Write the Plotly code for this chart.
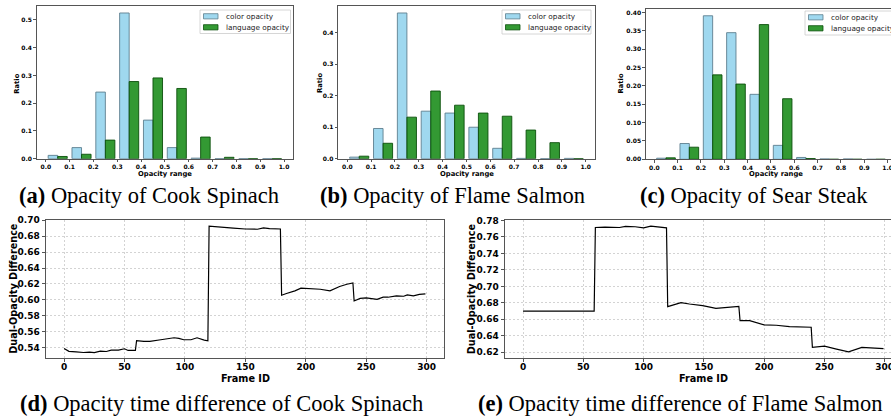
import plotly.graph_objects as go

W, H = 891, 417

# ---------------- data ----------------
bins = [0.0, 0.1, 0.2, 0.3, 0.4, 0.5, 0.6, 0.7, 0.8, 0.9]
x_ticks = [0.0, 0.1, 0.2, 0.3, 0.4, 0.5, 0.6, 0.7, 0.8, 0.9, 1.0]

spinach_color = [0.012, 0.040, 0.240, 0.525, 0.139, 0.040, 0.002, 0.0, 0.0, 0.0]
spinach_lang = [0.008, 0.016, 0.067, 0.278, 0.291, 0.253, 0.078, 0.005, 0.0, 0.0]
salmon_color = [0.005, 0.096, 0.463, 0.151, 0.145, 0.100, 0.033, 0.001, 0.0, 0.001]
salmon_lang = [0.008, 0.049, 0.132, 0.215, 0.170, 0.145, 0.135, 0.091, 0.051, 0.0]
steak_color = [0.003, 0.043, 0.391, 0.345, 0.177, 0.038, 0.005, 0.001, 0.001, 0.0]
steak_lang = [0.004, 0.033, 0.230, 0.205, 0.367, 0.165, 0.002, 0.0, 0.0, 0.0]

spinach_frames = [0, 4, 10, 16, 21, 25, 30, 35, 39, 45,
                  50, 53, 59, 60, 66, 71, 80, 91, 95, 99,
                  105, 110, 116, 119, 120, 130, 140, 150, 156, 160,
                  165, 170, 179, 180, 184, 191, 196, 201, 212, 220,
                  228, 234, 239, 240, 245, 250, 259, 264, 268, 275,
                  281, 284, 289, 294, 299]
spinach_diff = [0.539, 0.5355, 0.5348, 0.534, 0.5345, 0.534, 0.5357, 0.5353, 0.537, 0.537,
                0.5387, 0.5366, 0.5366, 0.549, 0.548, 0.548, 0.550, 0.5525, 0.5517, 0.550,
                0.550, 0.5525, 0.5496, 0.5487, 0.6925, 0.691, 0.690, 0.689, 0.6887, 0.6887,
                0.6903, 0.6895, 0.689, 0.6059, 0.608, 0.6113, 0.6147, 0.6143, 0.6134, 0.6113,
                0.6168, 0.6197, 0.6214, 0.5987, 0.602, 0.6025, 0.6008, 0.6034, 0.6034, 0.605,
                0.6046, 0.6063, 0.605, 0.607, 0.6076]

salmon_frames = [0, 59, 60, 68, 80, 85, 93, 100, 106, 113, 119, 120,
                 126, 131, 138, 146, 149, 160, 168, 179,
                 180, 188, 200, 210, 221, 232, 239,
                 240, 250, 260, 270, 281, 290, 299]
salmon_diff = [0.670, 0.670, 0.7715, 0.772, 0.7715, 0.7728, 0.7724, 0.7711, 0.7732, 0.7724, 0.7711, 0.6754,
               0.6782, 0.6802, 0.6786, 0.6774, 0.6766, 0.6734, 0.6746, 0.6758,
               0.6585, 0.6585, 0.6532, 0.6528, 0.6512, 0.6512, 0.6504,
               0.6259, 0.6275, 0.6239, 0.6206, 0.6259, 0.6255, 0.6243]

frame_ticks = [0, 50, 100, 150, 200, 250, 300]
spinach_yticks = [0.54, 0.56, 0.58, 0.60, 0.62, 0.64, 0.66, 0.68, 0.70]
salmon_yticks = [0.62, 0.64, 0.66, 0.68, 0.70, 0.72, 0.74, 0.76, 0.78]

captions = ["<b>(a)</b> Opacity of Cook Spinach",
            "<b>(b)</b> Opacity of Flame Salmon",
            "<b>(c)</b> Opacity of Sear Steak",
            "<b>(d)</b> Opacity time difference of Cook Spinach",
            "<b>(e)</b> Opacity time difference of Flame Salmon"]
legend_names = ["color opacity", "language opacity"]


def px(x):
    return x / W


def py(y):
    return 1 - y / H


BAR_W = 0.04
SKY = "rgba(135,206,235,0.8)"
SKY_EDGE = "#5d7f8e"
GRN = "rgba(0,128,0,0.8)"
GRN_EDGE = "#0b4f0b"
SPINE = "#555555"
GRID = "#d3d3d3"

fig = go.Figure()

hist_sets = [(spinach_color, spinach_lang), (salmon_color, salmon_lang), (steak_color, steak_lang)]
for i, (c_vals, l_vals) in enumerate(hist_sets, start=1):
    xa = "x" if i == 1 else f"x{i}"
    ya = "y" if i == 1 else f"y{i}"
    fig.add_trace(go.Bar(x=[b + 0.03 for b in bins], y=c_vals, width=BAR_W,
                         marker=dict(color=SKY, line=dict(color=SKY_EDGE, width=0.9)),
                         name=legend_names[0], showlegend=False, xaxis=xa, yaxis=ya))
    fig.add_trace(go.Bar(x=[b + 0.07 for b in bins], y=l_vals, width=BAR_W,
                         marker=dict(color=GRN, line=dict(color=GRN_EDGE, width=0.9)),
                         name=legend_names[1], showlegend=False, xaxis=xa, yaxis=ya))

fig.add_trace(go.Scatter(x=spinach_frames, y=spinach_diff, mode="lines",
                         line=dict(color="black", width=1.2), showlegend=False,
                         xaxis="x4", yaxis="y4"))
fig.add_trace(go.Scatter(x=salmon_frames, y=salmon_diff, mode="lines",
                         line=dict(color="black", width=1.2), showlegend=False,
                         xaxis="x5", yaxis="y5"))

small_tick = dict(family="DejaVu Sans", size=6, color="black", weight="bold")
big_tick = dict(family="DejaVu Sans", size=9, color="black", weight="bold")


def hist_x(domain, rng, anchor, mirror=True):
    return dict(domain=domain, range=rng, anchor=anchor, tickvals=x_ticks,
                ticktext=[f"{t:.1f}" for t in x_ticks], tickfont=small_tick,
                showline=True, linecolor=SPINE, linewidth=0.8, mirror=mirror,
                ticks="outside", ticklen=2.5, tickwidth=0.7, tickcolor=SPINE,
                showgrid=False, zeroline=False, ticklabeloverflow="allow")


def hist_y(domain, rng, anchor, step, fmt, mirror=True):
    n = int(round(rng[1] / step + 1e-9))
    vals = [round(k * step, 4) for k in range(n + 1)]
    return dict(domain=domain, range=rng, anchor=anchor, tickvals=vals,
                ticktext=[fmt.format(v) for v in vals], tickfont=small_tick,
                showline=True, linecolor=SPINE, linewidth=0.8, mirror=mirror,
                ticks="outside", ticklen=2.5, tickwidth=0.7, tickcolor=SPINE,
                showgrid=False, zeroline=False)


def line_x(domain, rng, anchor, mirror=True):
    return dict(domain=domain, range=rng, anchor=anchor, tickvals=frame_ticks,
                tickfont=big_tick, showline=True, linecolor=SPINE, linewidth=1,
                mirror=mirror, ticks="outside", ticklen=3.5, tickwidth=0.8,
                tickcolor=SPINE, showgrid=True, gridcolor=GRID, griddash="2px,2px",
                gridwidth=0.7, zeroline=False, ticklabelstandoff=-3,
                ticklabeloverflow="allow")


def line_y(domain, rng, anchor, tv, mirror=True):
    return dict(domain=domain, range=rng, anchor=anchor, tickvals=tv,
                ticktext=[f"{v:.2f}" for v in tv], tickfont=big_tick,
                showline=True, linecolor=SPINE, linewidth=1, mirror=mirror,
                ticks="outside", ticklen=3.5, tickwidth=0.8, tickcolor=SPINE,
                showgrid=True, gridcolor=GRID, griddash="2px,2px", gridwidth=0.7,
                zeroline=False)


top_dom_ab = [py(158.7), py(5.7)]
top_dom_c = [py(159.3), py(8.6)]
bot_dom = [py(357.7), py(220)]

ymax_a = max(spinach_color + spinach_lang) * 1.05
ymax_b = max(salmon_color + salmon_lang) * 1.05
ymax_c = max(steak_color + steak_lang) * 1.05

fig.update_layout(
    xaxis=hist_x([px(36.5), px(293.3)], [-0.039, 1.039], "y"),
    yaxis=hist_y(top_dom_ab, [0, ymax_a], "x", 0.1, "{:.1f}"),
    xaxis2=hist_x([px(338), px(595)], [-0.039, 1.039], "y2"),
    yaxis2=hist_y(top_dom_ab, [0, ymax_b], "x2", 0.1, "{:.1f}"),
    xaxis3=hist_x([px(645.7), 1.0], [-0.037, 1.0146], "y3"),
    yaxis3=hist_y(top_dom_c, [0, ymax_c], "x3", 0.05, "{:.2f}", mirror=False),
    xaxis4=line_x([px(46), px(443.5)], [-14.95, 313.95], "y4"),
    yaxis4=line_y(bot_dom, [0.5275, 0.7003], "x4", spinach_yticks),
    xaxis5=line_x([px(505), 1.0], [-14.95, 305.2], "y5"),
    yaxis5=line_y(bot_dom, [0.6134, 0.7806], "x5", salmon_yticks, mirror=False),
    barmode="overlay",
    width=W, height=H,
    margin=dict(l=0, r=0, t=0, b=0, autoexpand=False),
    paper_bgcolor="white", plot_bgcolor="white",
    font=dict(family="DejaVu Sans", color="black"),
    showlegend=False,
)

ann = []
shapes = []

# axis titles
lab_small = dict(family="DejaVu Sans", size=6.8, color="black", weight="bold")
lab_big = dict(family="DejaVu Sans", size=9.7, color="black", weight="bold")
for (rx, ry, ox, oy) in [(16.7, 84, 165, 173.5), (320, 83, 466.5, 173.5), (620.5, 84, 776, 173.5)]:
    ann.append(dict(x=px(rx), y=py(ry), xref="paper", yref="paper", text="Ratio",
                    textangle=-90, showarrow=False, font=lab_small, xanchor="center", yanchor="middle"))
    ann.append(dict(x=px(ox), y=py(oy), xref="paper", yref="paper", text="Opacity range",
                    showarrow=False, font=lab_small, xanchor="center", yanchor="middle"))
for (rx, ox) in [(13.3, 245), (471.7, 703.5)]:
    ann.append(dict(x=px(rx), y=py(288.5), xref="paper", yref="paper", text="Dual-Opacity Difference",
                    textangle=-90, showarrow=False, font=lab_big, xanchor="center", yanchor="middle"))
    ann.append(dict(x=px(ox), y=py(378.5), xref="paper", yref="paper", text="Frame ID",
                    showarrow=False, font=lab_big, xanchor="center", yanchor="middle"))

# legends (drawn as boxes + swatches + labels)
leg_font = dict(family="DejaVu Sans", size=7.3, color="#222222")
for (bx0, by0, bx1, by1) in [(200, 10, 290.5, 33.5), (502, 10, 591, 34), (805, 11, 900, 35)]:
    shapes.append(dict(type="rect", xref="paper", yref="paper", x0=px(bx0), x1=px(bx1),
                       y0=py(by1), y1=py(by0), line=dict(color="#cccccc", width=0.8),
                       fillcolor="rgba(255,255,255,0.85)", layer="above"))
    sx0, sx1 = bx0 + 3.5, bx0 + 18
    rows = [(by0 + 6.3, SKY, SKY_EDGE), (by0 + 17.3, GRN, GRN_EDGE)]
    for k, (cy, fc, ec) in enumerate(rows):
        shapes.append(dict(type="rect", xref="paper", yref="paper", x0=px(sx0), x1=px(sx1),
                           y0=py(cy + 2.6), y1=py(cy - 2.6), line=dict(color=ec, width=0.8),
                           fillcolor=fc, layer="above"))
        ann.append(dict(x=px(sx1 + 6), y=py(cy), xref="paper", yref="paper", text=legend_names[k],
                        showarrow=False, font=leg_font, xanchor="left", yanchor="middle"))

# captions
cap_font = dict(family="Liberation Serif", size=22.5, color="black")
for text, cx, cy in zip(captions, [149, 452, 754, 221, 680], [195, 195, 195, 403, 403]):
    ann.append(dict(x=px(cx), y=py(cy), xref="paper", yref="paper", text=text,
                    showarrow=False, font=cap_font, xanchor="center", yanchor="middle"))

fig.update_layout(annotations=ann, shapes=shapes)

fig.write_html("out.html", config={"displayModeBar": False},
               post_script="document.body.style.margin='0';")
